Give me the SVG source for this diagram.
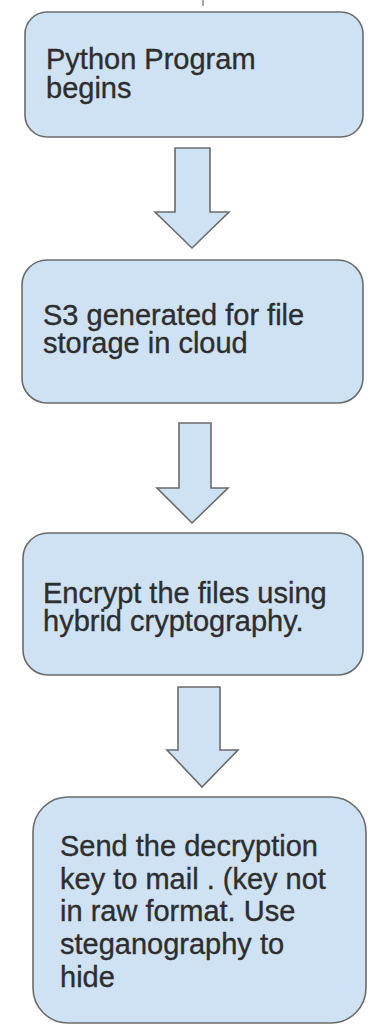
<svg xmlns="http://www.w3.org/2000/svg" width="370" height="1026" viewBox="0 0 370 1026">
<style>
.box{fill:#cfe2f3;stroke:#6b6b6b;stroke-width:1.6}
.arr{fill:#cfe2f3;stroke:#6b6b6b;stroke-width:1.6;stroke-linejoin:miter}
.t{font-family:"Liberation Sans",Arial,sans-serif;font-size:29px;fill:#2e2e2e;stroke:#2e2e2e;stroke-width:0.35}
</style>
<rect width="370" height="1026" fill="#ffffff"/>
<line x1="203" y1="0" x2="203" y2="6" stroke="#8a8a8a" stroke-width="1.5"/>
<g id="connectors">
<path class="arr" d="M175,148 H210 V212 H229 L192,248 L155,212 H175 Z"/>
<path class="arr" d="M179,423 H211 V488 H228 L192,523 L157,488 H179 Z"/>
<path class="arr" d="M178,687 H220 V750 H238 L202,787 L167,750 H178 Z"/>
</g>
<g id="node1">
<rect class="box" x="25" y="12" width="338" height="125" rx="22"/>
<text class="t" x="46" y="69">Python Program</text>
<text class="t" x="46" y="98">begins</text>
</g>
<g id="node2">
<rect class="box" x="22" y="260" width="341" height="143" rx="25"/>
<text class="t" x="43" y="325">S3 generated for file</text>
<text class="t" x="43" y="353">storage in cloud</text>
</g>
<g id="node3">
<rect class="box" x="23" y="533" width="340" height="142" rx="25"/>
<text class="t" x="43" y="603">Encrypt the files using</text>
<text class="t" x="43" y="631">hybrid cryptography.</text>
</g>
<g id="node4">
<rect class="box" x="33" y="797" width="333" height="226" rx="35"/>
<text class="t" x="60" y="856">Send the decryption</text>
<text class="t" x="60" y="889">key to mail . (key not</text>
<text class="t" x="60" y="921">in raw format. Use</text>
<text class="t" x="60" y="954">steganography to</text>
<text class="t" x="60" y="987">hide</text>
</g>
</svg>
